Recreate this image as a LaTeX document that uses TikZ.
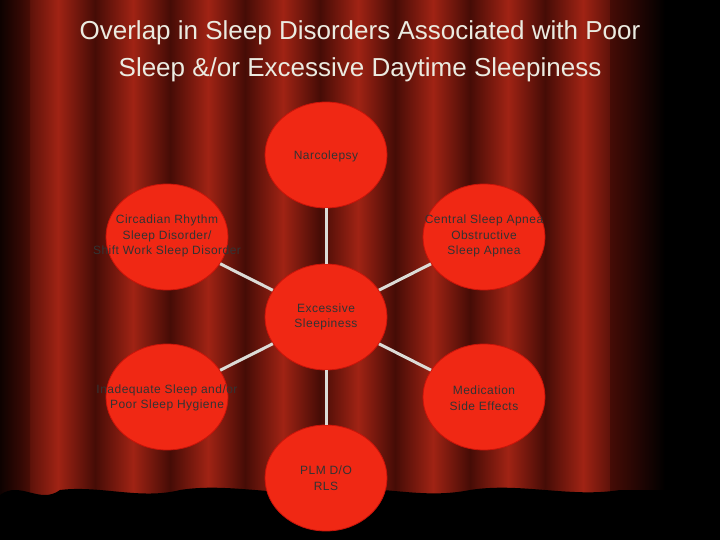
\documentclass[tikz,border=0pt]{standalone}
\usepackage{fontspec}
\setmainfont{Liberation Sans}
\usetikzlibrary{shapes.geometric}
\definecolor{cdark}{RGB}{70,12,6}
\definecolor{cmid}{RGB}{120,22,12}
\definecolor{clite}{RGB}{160,35,20}
\definecolor{bub}{RGB}{240,40,20}
\definecolor{bubedge}{RGB}{200,20,10}
\definecolor{ttl}{RGB}{235,235,225}
\definecolor{lnk}{RGB}{220,220,215}
\tikzset{
  bubble/.style={ellipse, fill=bub, draw=bubedge, line width=0.8pt, minimum width=122pt, minimum height=106pt, inner sep=0pt},
  btext/.style={align=center, font=\fontsize{12}{15.5}\selectfont\addfontfeatures{LetterSpace=4}, text=black!80},
  link/.style={draw=lnk, line width=3pt}
}
\begin{document}
\begin{tikzpicture}[x=1pt,y=-1pt]
\useasboundingbox (0,0) rectangle (720,540);
\fill[cdark] (0,0) rectangle (720,540);
% curtain folds
\foreach \x in {20,95,170,245,320,395,470,545}{
  \shade[left color=cdark, right color=clite] (\x,0) rectangle (\x+38,500);
  \shade[left color=clite, right color=cdark] (\x+38,0) rectangle (\x+75,500);
}
\shade[left color=black, right color=cdark, opacity=0.8] (0,0) rectangle (30,540);
\shade[left color=cdark, right color=black] (610,0) rectangle (665,540);
\fill[black] (665,0) rectangle (720,540);
% floor and hem
\fill[black] (0,540) -- (0,495) .. controls (20,480) and (40,505) .. (60,490)
  .. controls (100,485) and (140,500) .. (180,490) .. controls (230,482) and (280,498) .. (330,490)
  .. controls (380,484) and (420,500) .. (470,490) .. controls (520,482) and (570,498) .. (620,490)
  -- (720,490) -- (720,540) -- cycle;
% title
\node[text=ttl, align=center, font=\fontsize{26}{37}\selectfont] (title) at (360,51) {Overlap in Sleep Disorders Associated with Poor\\Sleep \&/or Excessive Daytime Sleepiness};
% bubbles
\node[bubble] (ex) at (326,317) {};
\node[bubble] (nar) at (326,155) {};
\node[bubble] (cir) at (167,237) {};
\node[bubble] (csa) at (484,237) {};
\node[bubble] (ina) at (167,397) {};
\node[bubble] (med) at (484,397) {};
\node[bubble] (plm) at (326,478) {};
\foreach \n in {nar,cir,csa,ina,med,plm}{\draw[link] (ex) -- (\n);}
\node[btext] (tex) at (326,317) {Excessive\\Sleepiness};
\node[btext] (tnar) at (326,156) {Narcolepsy};
\node[btext] (tcir) at (167,236) {Circadian Rhythm\\Sleep Disorder/\\Shift Work Sleep Disorder};
\node[btext] (tcsa) at (484,236) {Central Sleep Apnea\\Obstructive\\Sleep Apnea};
\node[btext] (tina) at (167,398) {Inadequate Sleep and/or\\Poor Sleep Hygiene};
\node[btext] (tmed) at (484,398) {Medication\\Side Effects};
\node[btext] (tplm) at (326,478) {PLM D/O\\RLS};
\end{tikzpicture}
\end{document}
